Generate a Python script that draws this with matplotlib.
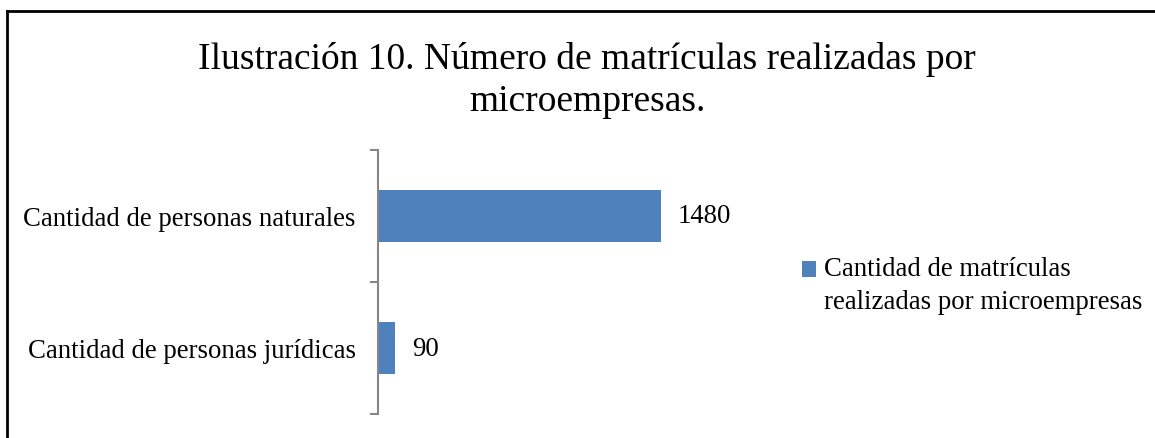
import matplotlib
matplotlib.use("Agg")
import matplotlib.pyplot as plt
from matplotlib.lines import Line2D
from matplotlib.patches import Patch, Rectangle
from matplotlib.legend_handler import HandlerPatch

categories = ["Cantidad de personas jurídicas", "Cantidad de personas naturales"]
values = [90, 1480]
series_name = "Cantidad de matrículas\nrealizadas por microempresas"
title = "Ilustración 10. Número de matrículas realizadas por\nmicroempresas."

plt.rcParams['font.family'] = ['Liberation Serif', 'DejaVu Serif']

W, H = 1155, 439
fig = plt.figure(figsize=(W/100, H/100), dpi=100)
fig.patch.set_facecolor('white')

# axes placement in pixels
x0, x1 = 378, 760
y_top, y_bot = 151, 415
ax = fig.add_axes([x0/W, 1 - y_bot/H, (x1-x0)/W, (y_bot-y_top)/H])

color = '#4F81BD'
fs = 19.3
ypos = list(range(len(categories)))
bars = ax.barh(ypos, values, height=0.4, color=color)
ax.set_xlim(0, 2000)
ax.set_ylim(-0.5, len(categories)-0.5)

for y, v in zip(ypos, values):
    ax.text(v + 1480*17/283, y, f"{v}", va='center', ha='left', fontsize=fs)

for s in ['top', 'right', 'bottom']:
    ax.spines[s].set_visible(False)
ax.spines['left'].set_color('#868686')
ax.spines['left'].set_linewidth(1.5)
ax.set_xticks([])
ax.set_yticks(ypos)
ax.set_yticklabels(categories, fontsize=fs)
ax.tick_params(axis='y', length=0, pad=16)
# category boundary tick marks
for b in [-0.5, 0.5, 1.5]:
    ax.plot([-8/(x1-x0)*2000, 0], [b, b], color='#868686', lw=1.5, clip_on=False, solid_capstyle='butt')

fig.text(587/W, 1 - 80.5/H, title, ha='center', va='center', fontsize=27, linespacing=1.28)


class TopPatchHandler(HandlerPatch):
    """Draw the legend square next to the first line of a two-line label."""
    def __init__(self, shift, **kw):
        super().__init__(**kw)
        self.shift = shift

    def create_artists(self, legend, orig_handle, xdescent, ydescent,
                       width, height, fontsize, trans):
        p = Rectangle((-xdescent, -ydescent + self.shift), width, height,
                      facecolor=orig_handle.get_facecolor(), edgecolor='none',
                      transform=trans)
        return [p]


handles = [Patch(facecolor=color, edgecolor='none')]
leg = fig.legend(handles, [series_name], loc='center left',
                 bbox_to_anchor=(789/W, 1 - 286/H), frameon=False, fontsize=fs,
                 handlelength=0.49, handleheight=0.49, handletextpad=0.3, borderpad=0,
                 labelspacing=0, handler_map={Patch: TopPatchHandler(shift=11.5)})
leg.get_texts()[0].set_linespacing(1.45)

# outer border (partially visible)
fig.add_artist(Line2D([7/W, 1], [1 - 12/H, 1 - 12/H], color='black', lw=2, transform=fig.transFigure))
fig.add_artist(Line2D([7/W, 7/W], [0, 1 - 12/H], color='black', lw=2, transform=fig.transFigure))

fig.savefig("out.png", dpi=100, facecolor='white')
